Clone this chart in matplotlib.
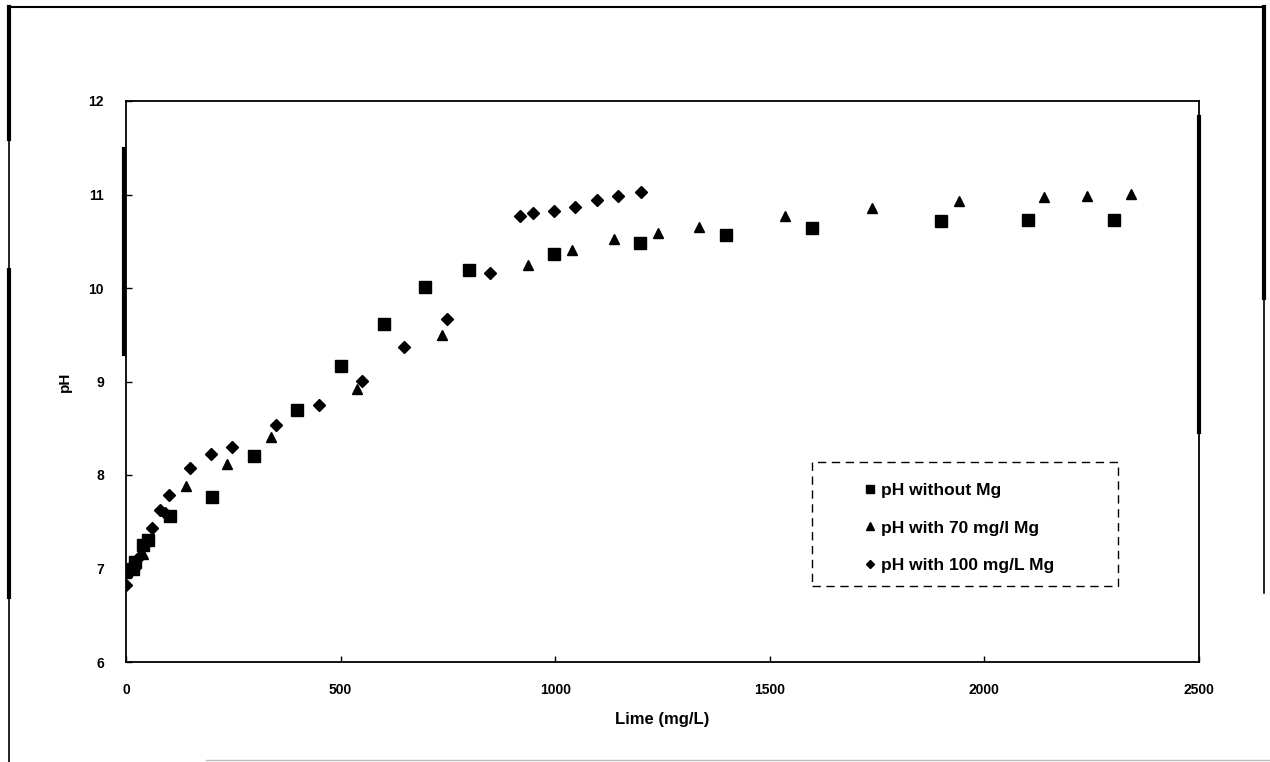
import matplotlib
matplotlib.use("Agg")
import matplotlib.pyplot as plt
from matplotlib.lines import Line2D
from matplotlib.patches import Rectangle

plt.rcParams['font.family'] = ['Liberation Sans', 'DejaVu Sans']

# Data: pH without Mg
lime_no_mg = [0, 17, 21, 40, 52, 102, 200, 298, 399, 500, 600, 697, 798, 997, 1198, 1398, 1599, 1900, 2101, 2302]
ph_no_mg = [6.97, 7.00, 7.07, 7.25, 7.30, 7.56, 7.76, 8.20, 8.70, 9.17, 9.61, 10.01, 10.19, 10.36, 10.48, 10.57, 10.64, 10.72, 10.73, 10.73]

# pH with 70 mg/l Mg
lime_70 = [0, 20, 40, 140, 236, 339, 539, 737, 937, 1040, 1138, 1240, 1334, 1536, 1737, 1941, 2140, 2240, 2341]
ph_70 = [6.95, 7.05, 7.16, 7.88, 8.12, 8.41, 8.92, 9.50, 10.25, 10.41, 10.52, 10.59, 10.65, 10.77, 10.86, 10.93, 10.97, 10.98, 11.01]

# pH with 100 mg/L Mg
lime_100 = [0, 30, 61, 79, 91, 101, 148, 197, 248, 350, 450, 549, 648, 747, 847, 918, 948, 997, 1046, 1098, 1147, 1199]
ph_100 = [6.82, 7.12, 7.43, 7.63, 7.59, 7.79, 8.07, 8.22, 8.30, 8.53, 8.75, 9.01, 9.37, 9.67, 10.16, 10.77, 10.80, 10.82, 10.87, 10.94, 10.98, 11.03]

labels = ["pH without Mg", "pH with 70 mg/l Mg", "pH with 100 mg/L Mg"]
x_ticks = [0, 500, 1000, 1500, 2000, 2500]
y_ticks = [6, 7, 8, 9, 10, 11, 12]

W, H = 1270, 762
fig = plt.figure(figsize=(12.7, 7.62), dpi=100)
fig.patch.set_facecolor('white')
ax = fig.add_axes([126 / W, 1 - 662 / H, (1199 - 126) / W, (662 - 101) / H])

ax.plot(lime_no_mg, ph_no_mg, linestyle='none', marker='s', markersize=8.5, color='black', label=labels[0])
ax.plot(lime_70, ph_70, linestyle='none', marker='^', markersize=7.5, color='black', label=labels[1])
ax.plot(lime_100, ph_100, linestyle='none', marker='D', markersize=6.5, color='black', label=labels[2])

ax.set_xlim(0, 2500)
ax.set_ylim(6, 12)
ax.set_xticks(x_ticks)
ax.set_yticks(y_ticks)
ax.set_xticklabels([str(v) for v in x_ticks], fontsize=10, fontweight='bold')
ax.set_yticklabels([str(v) for v in y_ticks], fontsize=10, fontweight='bold')
ax.tick_params(axis='both', direction='in', length=4, width=1)
ax.tick_params(axis='x', pad=15)
ax.tick_params(axis='y', pad=16)
for s in ax.spines.values():
    s.set_linewidth(1.3)

ax.set_xlabel("Lime (mg/L)", fontsize=12, fontweight='bold', labelpad=11)
ax.set_ylabel("pH", fontsize=11, fontweight='bold', labelpad=12)

# legend (entries) without frame, and a dashed box drawn around it
leg = ax.legend(loc='center left', bbox_to_anchor=(0.6887, 0.2389),
                borderaxespad=0, frameon=False, borderpad=0,
                prop={'family': 'Liberation Sans', 'weight': 'bold', 'size': 12.5},
                markerscale=0.7, handlelength=0.6, handletextpad=0.35,
                labelspacing=1.3)
ax.add_patch(Rectangle((0.6393, 0.1355), 0.2852, 0.2210, transform=ax.transAxes,
                       fill=False, edgecolor='black', linewidth=1.0,
                       linestyle=(0, (6, 4)), zorder=5))

# outer frame lines of the scanned figure
def fline(xs, ys, lw=1.2, color='black'):
    fig.add_artist(Line2D([x / W for x in xs], [1 - y / H for y in ys], lw=lw, color=color))

fline([9, 1264], [7, 7], lw=1.5)
fline([9, 9], [7, 762], lw=1.2)
fline([9, 9], [7, 139], lw=3)
fline([9, 9], [270, 597], lw=3)
fline([1264, 1264], [7, 593], lw=1.2)
fline([1264, 1264], [7, 298], lw=3)
fline([1199, 1199], [117, 432], lw=3)
fline([124, 124], [149, 354], lw=3)
fline([206, 1270], [760, 760], lw=1.0, color='#bbbbbb')

fig.savefig("out.png", dpi=100)
